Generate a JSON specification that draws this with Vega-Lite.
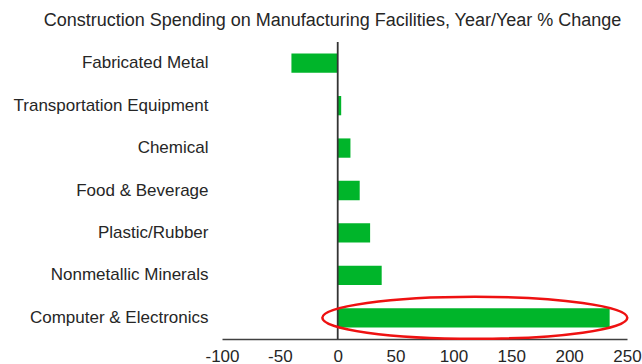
{
  "$schema": "https://vega.github.io/schema/vega-lite/v6.json",
  "autosize": {"type": "none"},
  "width": 405,
  "height": 297,
  "padding": {"left": 222, "top": 42, "right": 15, "bottom": 25},
  "background": "white",
  "config": {
    "view": {"stroke": null},
    "font": "Liberation Sans",
    "axis": {"labelFont": "Liberation Sans", "labelColor": "#262626", "grid": false}
  },
  "title": {
    "text": "Construction Spending on Manufacturing Facilities, Year/Year % Change",
    "font": "Liberation Sans",
    "fontSize": 18,
    "fontWeight": "normal",
    "color": "#262626",
    "anchor": "middle",
    "frame": "group",
    "dx": -92,
    "offset": 11
  },
  "datasets": {
    "bars": [
      {"Category": "Fabricated Metal", "Change": -40},
      {"Category": "Transportation Equipment", "Change": 3},
      {"Category": "Chemical", "Change": 11},
      {"Category": "Food & Beverage", "Change": 19},
      {"Category": "Plastic/Rubber", "Change": 28},
      {"Category": "Nonmetallic Minerals", "Change": 38},
      {"Category": "Computer & Electronics", "Change": 235}
    ],
    "highlight": [
      {"Category": "Computer & Electronics", "Center": 118.5}
    ]
  },
  "layer": [
    {
      "data": {"name": "bars"},
      "mark": {"type": "bar", "color": "#00b52a"},
      "encoding": {
        "y": {
          "field": "Category",
          "type": "nominal",
          "sort": ["Fabricated Metal", "Transportation Equipment", "Chemical", "Food & Beverage", "Plastic/Rubber", "Nonmetallic Minerals", "Computer & Electronics"],
          "scale": {"paddingInner": 0.545, "paddingOuter": 0.2725},
          "axis": {"title": null, "domain": false, "ticks": false, "labelFontSize": 17, "labelPadding": 14, "labelLimit": 400}
        },
        "x": {
          "field": "Change",
          "type": "quantitative",
          "scale": {"domain": [-100, 250], "nice": false, "zero": false},
          "axis": {
            "title": null,
            "values": [-100, -50, 0, 50, 100, 150, 200, 250],
            "labelExpr": "'' + datum.value",
            "ticks": false,
            "domainColor": "#404040",
            "domainWidth": 1.5,
            "labelFontSize": 17,
            "labelPadding": 9,
            "labelFlush": false
          }
        }
      }
    },
    {
      "data": {"values": [{}]},
      "mark": {"type": "rule", "color": "#333333", "strokeWidth": 1.8},
      "encoding": {"x": {"datum": 0}}
    },
    {
      "data": {"name": "highlight"},
      "mark": {
        "type": "point",
        "filled": false,
        "stroke": "#ee1111",
        "strokeWidth": 2.5,
        "opacity": 1,
        "size": 93025,
        "shape": "M -1 0 C -1 -0.0762 -0.5523 -0.138 0 -0.138 C 0.5523 -0.138 1 -0.0762 1 0 C 1 0.0762 0.5523 0.138 0 0.138 C -0.5523 0.138 -1 0.0762 -1 0 Z"
      },
      "encoding": {
        "y": {
          "field": "Category",
          "type": "nominal",
          "sort": ["Fabricated Metal", "Transportation Equipment", "Chemical", "Food & Beverage", "Plastic/Rubber", "Nonmetallic Minerals", "Computer & Electronics"]
        },
        "x": {"field": "Center", "type": "quantitative"}
      }
    }
  ]
}
